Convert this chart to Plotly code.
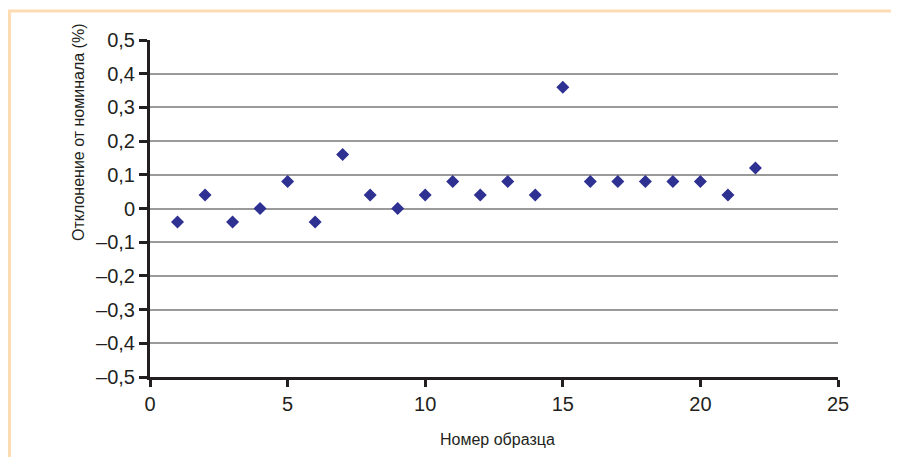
import plotly.graph_objects as go

samples = list(range(1, 23))
deviation = [-0.04, 0.04, -0.04, 0.0, 0.08, -0.04, 0.16, 0.04, 0.0, 0.04, 0.08,
             0.04, 0.08, 0.04, 0.36, 0.08, 0.08, 0.08, 0.08, 0.08, 0.04, 0.12]

y_ticks = [-0.5, -0.4, -0.3, -0.2, -0.1, 0, 0.1, 0.2, 0.3, 0.4, 0.5]
y_labels = ["\u20130,5", "\u20130,4", "\u20130,3", "\u20130,2", "\u20130,1", "0",
            "0,1", "0,2", "0,3", "0,4", "0,5"]
x_ticks = [0, 5, 10, 15, 20, 25]

x_title = "Номер образца"
y_title = "Отклонение от номинала (%)"

# page body has an 8px margin; figure is sized to fit the 899x457 window
W, H = 891, 449
L, T, PW, PH = 142, 32, 688, 337
B = H - T - PH
R = W - L - PW
PB = T + PH  # plot bottom in figure px


def px_x(x):
    return (x - L) / PW


def px_y(y):
    return (PB - y) / PH


fig = go.Figure()
fig.add_trace(go.Scatter(
    x=samples, y=deviation, mode="markers",
    marker=dict(symbol="diamond", size=10, color="#2E3192"),
    showlegend=False,
))

tick_font = dict(family="Liberation Sans, Arial, sans-serif", size=20, color="#231F20")
title_font = dict(family="Liberation Sans Narrow, Arial Narrow, Liberation Sans, sans-serif",
                  size=16, color="#231F20")

fig.update_layout(
    width=W, height=H,
    margin=dict(l=L, r=R, t=T, b=B),
    paper_bgcolor="white", plot_bgcolor="white",
    xaxis=dict(
        range=[0, 25], tickvals=x_ticks, showgrid=False, zeroline=False,
        showline=True, linecolor="#231F20", linewidth=3,
        ticks="outside", ticklen=7, tickwidth=3, tickcolor="#231F20",
        tickfont=tick_font,
    ),
    yaxis=dict(
        range=[-0.5, 0.5], tickvals=y_ticks, ticktext=y_labels,
        showgrid=True, gridcolor="#9A9A9A", gridwidth=1.5,
        zeroline=False,
        showline=True, linecolor="#231F20", linewidth=3,
        ticks="outside", ticklen=8, tickwidth=3, tickcolor="#231F20",
        tickfont=tick_font,
    ),
    annotations=[
        dict(text=x_title, xref="paper", yref="paper", x=px_x(489), y=px_y(432),
             showarrow=False, font=title_font, xanchor="center", yanchor="middle"),
        dict(text=y_title, xref="paper", yref="paper", x=px_x(70), y=px_y(124),
             showarrow=False, font=title_font, textangle=-90,
             xanchor="center", yanchor="middle"),
    ],
    shapes=[
        dict(type="line", xref="paper", yref="paper",
             x0=px_x(0), x1=px_x(W + 5),
             y0=px_y(3), y1=px_y(3),
             line=dict(color="#FDDCB3", width=3)),
        dict(type="line", xref="paper", yref="paper",
             x0=px_x(1.5), x1=px_x(1.5),
             y0=px_y(3), y1=px_y(H + 10),
             line=dict(color="#FDDCB3", width=3)),
    ],
)

fig.write_html("out.html")
